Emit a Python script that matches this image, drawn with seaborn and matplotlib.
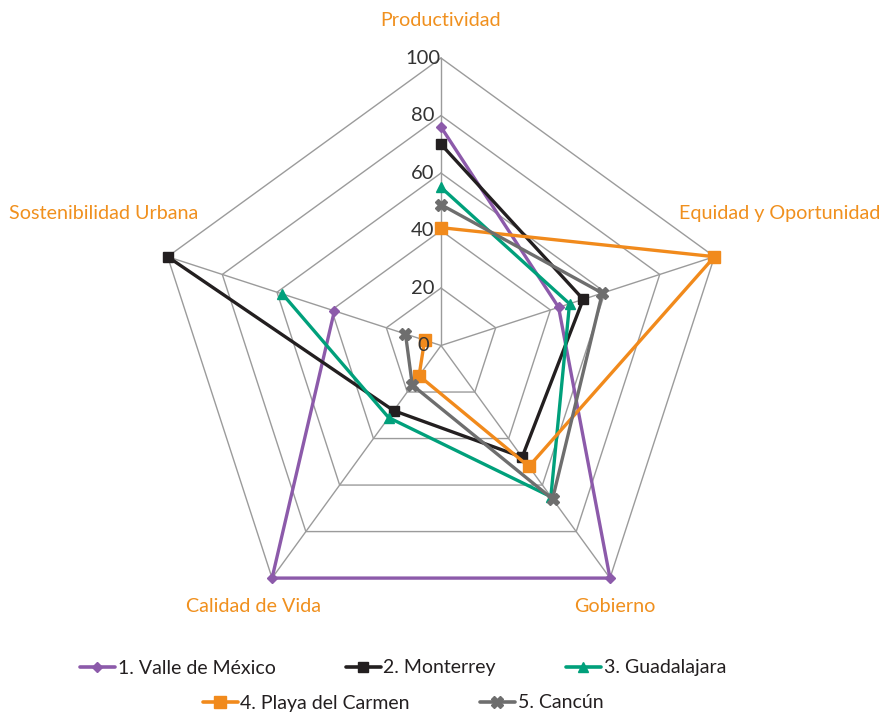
import numpy as np
import matplotlib
matplotlib.use("Agg")
import matplotlib.pyplot as plt
from matplotlib.lines import Line2D
import seaborn as sns

# categories (clockwise from the top) and the values of each city
categories = ["Productividad", "Equidad y Oportunidad", "Gobierno",
              "Calidad de Vida", "Sostenibilidad Urbana"]
series_names = ["1. Valle de México", "2. Monterrey", "3. Guadalajara",
                "4. Playa del Carmen", "5. Cancún"]
valle = [76, 43, 100, 100, 39]
monterrey = [70, 52, 48, 28, 100]
guadalajara = [55, 47, 65, 31, 58]
playa = [41, 100, 52, 13, 6]
cancun = [49, 59, 66, 17, 13]
ticks = [0, 20, 40, 60, 80, 100]

colors = ["#8C5AAA", "#231F20", "#00A07B", "#F18A1C", "#6E6E6E"]
markers = ["D", "s", "^", "s", "X"]
msizes = [5, 7, 7, 8, 8]
label_color = "#F0901E"

sns.set_style("white")
plt.rcParams['font.family'] = ['Lato', 'DejaVu Sans']

fig = plt.figure(figsize=(8.81, 7.13), dpi=100)
ax = fig.add_axes([0.1743, 0.1122, 0.6526, 0.8064], projection="polar")
ax.set_theta_offset(np.pi / 2)
ax.set_theta_direction(-1)

n = len(categories)
theta = np.linspace(0, 2 * np.pi, n, endpoint=False)
theta_closed = np.append(theta, theta[0])

# pentagon grid and spokes
for t in ticks[1:]:
    ax.plot(theta_closed, [t] * (n + 1), color="#9B9B9B", lw=1.0, zorder=1, clip_on=False)
for th in theta:
    ax.plot([th, th], [0, 100], color="#9B9B9B", lw=1.0, zorder=1, clip_on=False)

# series
all_values = [valle, monterrey, guadalajara, playa, cancun]
for vals, c, m, ms in zip(all_values, colors, markers, msizes):
    r = vals + vals[:1]
    sns.lineplot(x=theta_closed, y=r, ax=ax, sort=False, color=c, lw=2.4,
                 marker=m, markersize=ms, markeredgecolor=c, markeredgewidth=1,
                 clip_on=False, zorder=3)

ax.set_ylim(0, 100)
ax.grid(False)
ax.spines['polar'].set_visible(False)
ax.set_xticks([])
ax.set_yticks([])
ax.set_xlabel("")
ax.set_ylabel("")

# radial tick labels along the top axis
for t in ticks:
    ax.annotate(str(t), xy=(0, t), xytext=(-13, 0), textcoords="offset points",
                ha="center", va="center", fontsize=14.5, color="#333333")

# category labels
label_pos = [(441, 20), (780, 214), (615, 606), (254, 606), (104, 214)]
for name, (px, py) in zip(categories, label_pos):
    fig.text(px / 881, 1 - py / 713, name, ha="center", va="center",
             fontsize=14.2, color=label_color)

# legend in two centred rows
handles = [Line2D([], [], color=c, lw=2.6, marker=m, markersize=ms,
                  markeredgecolor=c) for c, m, ms in zip(colors, markers, msizes)]
leg_kw = dict(loc="center", frameon=False, fontsize=14, handlelength=1.8,
              handletextpad=0.15, columnspacing=3.6)
leg1 = fig.legend(handles[:3], series_names[:3], ncol=3,
                  bbox_to_anchor=(403 / 881, 1 - 668 / 713), **leg_kw)
leg2 = fig.legend(handles[3:], series_names[3:], ncol=2,
                  bbox_to_anchor=(403 / 881, 1 - 703 / 713), **leg_kw)
for leg in (leg1, leg2):
    for txt in leg.get_texts():
        txt.set_color("#231F20")

fig.savefig("out.png", dpi=100)
